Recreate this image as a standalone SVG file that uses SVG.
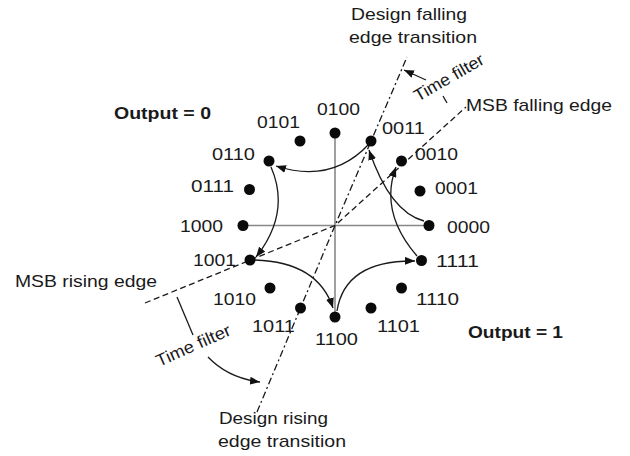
<svg xmlns="http://www.w3.org/2000/svg" width="630" height="456" viewBox="0 0 630 456">
<defs>
<marker id="ah" markerUnits="userSpaceOnUse" markerWidth="11" markerHeight="8" refX="10" refY="4" orient="auto">
<path d="M0,0 L10,4 L0,8 z" fill="#111"/>
</marker>
<style>
text{font-family:"Liberation Sans",Arial,sans-serif;fill:#1a1a1a}
.d{font-size:17px}
.b{font-size:17px;font-weight:bold}
.l{font-size:17px}
.dot{fill:#0a0a0a}
.axis{stroke:#888;stroke-width:1.6;fill:none}
.arc{stroke:#1a1a1a;stroke-width:1.3;fill:none;marker-end:url(#ah)}
.msb{stroke:#1a1a1a;stroke-width:1.3;fill:none;stroke-dasharray:6 3.5}
.des{stroke:#1a1a1a;stroke-width:1.3;fill:none;stroke-dasharray:7 3 2 3}
.thin{stroke:#1a1a1a;stroke-width:1.3;fill:none}
</style>
</defs>
<rect width="630" height="456" fill="#fff"/>

<g id="axes">
<line class="axis" x1="243" y1="225.5" x2="429" y2="225.5"/>
<line class="axis" x1="335" y1="133" x2="335" y2="317"/>
</g>

<g id="connectors">
<path class="msb" d="M145,303 L335,225.5 L466,107"/>
<path class="des" d="M257,412 L335,225.5 L407,57"/>
<path class="arc" d="M369,144 Q332,184 276,166"/>
<path class="arc" d="M271,167 Q291,213 256,257"/>
<path class="arc" d="M255,260 Q318,262 333,308"/>
<path class="arc" d="M337,311 Q345,260 415,261"/>
<path class="arc" d="M417,256 Q379,212 396,167"/>
<path class="arc" d="M424,221 Q390,212 369,150"/>
<path class="arc" d="M426,80 L404,70"/>
<path class="arc" d="M208,357 Q228,378 260,382"/>
<line class="thin" x1="177" y1="297" x2="193" y2="335"/>
<line class="thin" x1="443" y1="96" x2="447" y2="103"/>
</g>

<g id="n0000"><circle class="dot" cx="429" cy="225.5" r="5.5"/><text class="d" x="447" y="233" textLength="43" lengthAdjust="spacingAndGlyphs">0000</text></g>
<g id="n0001"><circle class="dot" cx="420" cy="191" r="5.5"/><text class="d" x="435" y="194" textLength="43" lengthAdjust="spacingAndGlyphs">0001</text></g>
<g id="n0010"><circle class="dot" cx="401.5" cy="161" r="5.5"/><text class="d" x="415" y="160" textLength="43" lengthAdjust="spacingAndGlyphs">0010</text></g>
<g id="n0011"><circle class="dot" cx="371" cy="141" r="5.5"/><text class="d" x="382" y="134" textLength="43" lengthAdjust="spacingAndGlyphs">0011</text></g>
<g id="n0100"><circle class="dot" cx="335" cy="133" r="5.5"/><text class="d" x="317" y="115" textLength="43" lengthAdjust="spacingAndGlyphs">0100</text></g>
<g id="n0101"><circle class="dot" cx="300" cy="141" r="5.5"/><text class="d" x="257" y="128" textLength="43" lengthAdjust="spacingAndGlyphs">0101</text></g>
<g id="n0110"><circle class="dot" cx="269" cy="161" r="5.5"/><text class="d" x="212" y="160" textLength="43" lengthAdjust="spacingAndGlyphs">0110</text></g>
<g id="n0111"><circle class="dot" cx="249.5" cy="189.5" r="5.5"/><text class="d" x="191" y="192" textLength="43" lengthAdjust="spacingAndGlyphs">0111</text></g>
<g id="n1000"><circle class="dot" cx="243" cy="225.5" r="5.5"/><text class="d" x="180" y="232" textLength="43" lengthAdjust="spacingAndGlyphs">1000</text></g>
<g id="n1001"><circle class="dot" cx="250" cy="260" r="5.5"/><text class="d" x="193" y="266" textLength="43" lengthAdjust="spacingAndGlyphs">1001</text></g>
<g id="n1010"><circle class="dot" cx="270" cy="288" r="5.5"/><text class="d" x="213" y="305" textLength="43" lengthAdjust="spacingAndGlyphs">1010</text></g>
<g id="n1011"><circle class="dot" cx="300.5" cy="308" r="5.5"/><text class="d" x="252" y="332" textLength="43" lengthAdjust="spacingAndGlyphs">1011</text></g>
<g id="n1100"><circle class="dot" cx="335" cy="317" r="5.5"/><text class="d" x="315" y="345" textLength="43" lengthAdjust="spacingAndGlyphs">1100</text></g>
<g id="n1101"><circle class="dot" cx="371" cy="308" r="5.5"/><text class="d" x="377" y="332" textLength="43" lengthAdjust="spacingAndGlyphs">1101</text></g>
<g id="n1110"><circle class="dot" cx="401.5" cy="288" r="5.5"/><text class="d" x="416" y="305" textLength="43" lengthAdjust="spacingAndGlyphs">1110</text></g>
<g id="n1111"><circle class="dot" cx="421.5" cy="260.5" r="5.5"/><text class="d" x="436" y="267" textLength="43" lengthAdjust="spacingAndGlyphs">1111</text></g>

<g id="labels">
<text class="b" x="114" y="119" textLength="97" lengthAdjust="spacingAndGlyphs">Output = 0</text>
<text class="b" x="468" y="338" textLength="95" lengthAdjust="spacingAndGlyphs">Output = 1</text>
<text class="l" x="15" y="287" textLength="142" lengthAdjust="spacingAndGlyphs">MSB rising edge</text>
<text class="l" x="466" y="111" textLength="146" lengthAdjust="spacingAndGlyphs">MSB falling edge</text>
<text class="l" x="351" y="20" textLength="116" lengthAdjust="spacingAndGlyphs">Design falling</text>
<text class="l" x="349" y="43" textLength="128" lengthAdjust="spacingAndGlyphs">edge transition</text>
<text class="l" x="219" y="424" textLength="109" lengthAdjust="spacingAndGlyphs">Design rising</text>
<text class="l" x="218" y="447" textLength="128" lengthAdjust="spacingAndGlyphs">edge transition</text>
<text class="l" transform="translate(418,102) rotate(-30)" textLength="78" lengthAdjust="spacingAndGlyphs">Time filter</text>
<text class="l" transform="translate(159,367) rotate(-24)" textLength="80" lengthAdjust="spacingAndGlyphs">Time filter</text>
</g>
</svg>
